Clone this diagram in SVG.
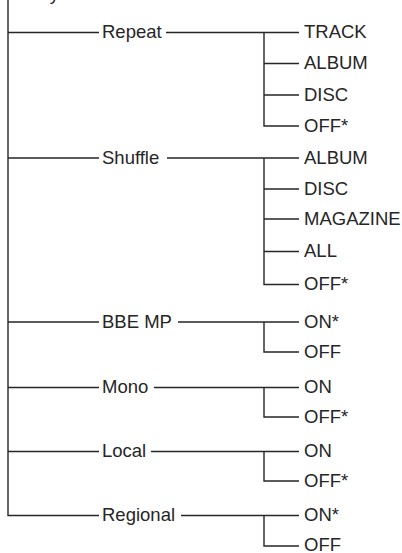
<svg xmlns="http://www.w3.org/2000/svg" width="402" height="553" viewBox="0 0 402 553">
<style>
text{font-family:"Liberation Sans",Arial,sans-serif;font-size:18.5px;fill:#262626}
.c{fill:none;stroke:#262626;stroke-width:1.4}
</style>
<rect width="402" height="553" fill="#fff"/>
<g id="root"><text x="23" y="0">Play Mode</text></g>
<g id="connectors" class="c">
<path d="M8 0V515.5H99"/>
<path d="M8 32.5H99M166 32.5H299M264 32.5V126H299M264 63.5H299M264 95H299"/>
<path d="M8 158H99M167 158H299M264 158V284.5H299M264 189H299M264 219H299M264 251.5H299"/>
<path d="M8 322H99M178 322H299M264 322V352H299"/>
<path d="M8 387.5H99M154 387.5H299M264 387.5V417H299"/>
<path d="M8 451.5H99M151 451.5H299M264 451.5V481H299"/>
<path d="M181 515.5H299M264 515.5V546H299"/>
</g>
<g id="repeat"><text x="102" y="38">Repeat</text></g>
<g id="repeat-track"><text x="304" y="38">TRACK</text></g>
<g id="repeat-album"><text x="304" y="69">ALBUM</text></g>
<g id="repeat-disc"><text x="304" y="100.5">DISC</text></g>
<g id="repeat-off"><text x="304" y="131.5">OFF*</text></g>
<g id="shuffle"><text x="102" y="163.5">Shuffle</text></g>
<g id="shuffle-album"><text x="304" y="163.5">ALBUM</text></g>
<g id="shuffle-disc"><text x="304" y="194.5">DISC</text></g>
<g id="shuffle-magazine"><text x="304" y="224.5">MAGAZINE</text></g>
<g id="shuffle-all"><text x="304" y="257">ALL</text></g>
<g id="shuffle-off"><text x="304" y="290">OFF*</text></g>
<g id="bbe"><text x="102" y="327.5">BBE MP</text></g>
<g id="bbe-on"><text x="304" y="327.5">ON*</text></g>
<g id="bbe-off"><text x="304" y="357.5">OFF</text></g>
<g id="mono"><text x="102" y="393">Mono</text></g>
<g id="mono-on"><text x="304" y="393">ON</text></g>
<g id="mono-off"><text x="304" y="422.5">OFF*</text></g>
<g id="local"><text x="102" y="457">Local</text></g>
<g id="local-on"><text x="304" y="457">ON</text></g>
<g id="local-off"><text x="304" y="486.5">OFF*</text></g>
<g id="regional"><text x="102" y="521">Regional</text></g>
<g id="regional-on"><text x="304" y="521">ON*</text></g>
<g id="regional-off"><text x="304" y="551">OFF</text></g>
</svg>
